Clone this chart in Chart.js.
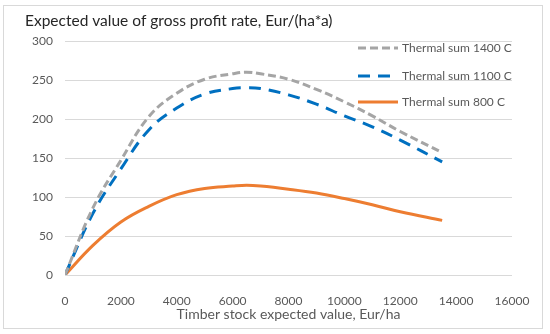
<!DOCTYPE html>
<html>
<head>
<meta charset="utf-8">
<script src="https://cdn.jsdelivr.net/npm/chart.js@4.4.1/dist/chart.umd.min.js"></script>
<style>
  html, body { margin: 0; padding: 0; background: #fff; }
  #wrap { width: 550px; height: 334px; }
</style>
</head>
<body>
<div id="wrap"><canvas id="c" width="550" height="334"></canvas></div>
<script>
var chartTitle = 'Expected value of gross profit rate, Eur/(ha*a)';
var xTitle = 'Timber stock expected value, Eur/ha';
var seriesNames = ['Thermal sum 1400 C', 'Thermal sum 1100 C', 'Thermal sum 800 C'];
var stockValues = [0, 1000, 2000, 3000, 4000, 5000, 6000, 6500, 7000, 8000, 9000, 10000, 11000, 12000, 13500];
var sum1400 = [0, 86, 147, 203, 233, 251, 258, 260, 258, 251, 238, 222, 204, 184, 157];
var sum1100 = [0, 79, 136, 186, 214, 232, 239, 240, 239, 231, 219, 204, 190, 173, 145];
var sum800 = [0, 38, 68, 88, 103, 111, 114, 115, 114, 110, 105, 98, 90, 81, 70];
var colors = ['#A5A5A5', '#0070C0', '#ED7D31'];
var dashes = [[8, 4], [12, 8], []];

function toPoints(ys) {
    var pts = [];
    for (let i = 0; i < stockValues.length; i++) {
        pts.push({x: stockValues[i], y: ys[i]});
    }
    return pts;
}

var allSeries = [sum1400, sum1100, sum800];
var datasets = [];
for (let i = 0; i < allSeries.length; i++) {
    datasets.push({
        label: seriesNames[i],
        data: toPoints(allSeries[i]),
        borderColor: colors[i],
        backgroundColor: colors[i],
        borderWidth: 3,
        borderDash: dashes[i],
        showLine: true,
        pointRadius: 0,
        tension: 0.4,
        fill: false,
    });
}

var fontFamily = 'Lato, "Noto Sans", sans-serif';
var textColor = '#595959';

// frame, title and the legend drawn inside the plot area
var decorPlugin = {
    id: 'decor',
    beforeDraw(chart) {
        var ctx = chart.ctx;
        ctx.save();
        ctx.strokeStyle = '#d9d9d9';
        ctx.lineWidth = 1;
        ctx.strokeRect(3.5, 5.5, 539, 323);
        ctx.restore();
    },
    afterDraw(chart) {
        var ctx = chart.ctx;
        ctx.save();
        ctx.fillStyle = '#262626';
        ctx.font = '15.5px ' + fontFamily;
        ctx.textBaseline = 'middle';
        ctx.fillText(chartTitle, 25, 21);

        var legendY = [48, 76, 102];
        ctx.font = '12px ' + fontFamily;
        for (let i = 0; i < seriesNames.length; i++) {
            ctx.beginPath();
            ctx.strokeStyle = colors[i];
            ctx.lineWidth = 3;
            ctx.setLineDash(dashes[i]);
            ctx.moveTo(358, legendY[i]);
            ctx.lineTo(398, legendY[i]);
            ctx.stroke();
            ctx.setLineDash([]);
            ctx.fillStyle = textColor;
            ctx.fillText(seriesNames[i], 402, legendY[i]);
        }
        ctx.restore();
    }
};

new Chart(document.getElementById('c'), {
    type: 'scatter',
    data: {datasets: datasets},
    plugins: [decorPlugin],
    options: {
        responsive: false,
        animation: false,
        layout: {padding: {top: 41, right: 38, bottom: 11, left: 0}},
        plugins: {
            legend: {display: false},
            title: {display: false},
            tooltip: {enabled: false},
        },
        scales: {
            x: {
                type: 'linear',
                min: 0,
                max: 16000,
                ticks: {
                    stepSize: 2000, color: textColor, font: {family: fontFamily, size: 12}, padding: 11, maxRotation: 0,
                    callback: function(v) { return String(v); },
                },
                grid: {display: false},
                border: {display: false},
                title: {display: true, text: xTitle, color: textColor, font: {family: fontFamily, size: 14}, padding: 0},
                afterFit(scale) { scale.height = 48; },
            },
            y: {
                min: 0,
                max: 300,
                ticks: {stepSize: 50, color: textColor, font: {family: fontFamily, size: 12}, padding: 12},
                grid: {color: '#d9d9d9', lineWidth: 1, drawTicks: false},
                border: {display: false},
                afterFit(scale) { scale.width = 65; },
            },
        },
    },
});
</script>
</body>
</html>
